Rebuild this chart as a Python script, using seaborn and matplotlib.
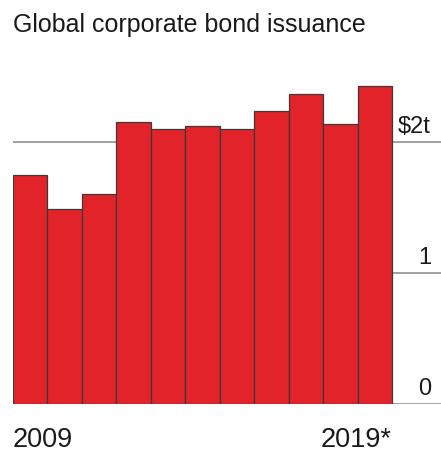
import matplotlib
matplotlib.use("Agg")
import matplotlib.pyplot as plt
import matplotlib.transforms as mtransforms
import seaborn as sns
import pandas as pd

# Annual global corporate bond issuance, $ trillion
years = ["2009", "2010", "2011", "2012", "2013", "2014", "2015", "2016", "2017", "2018", "2019*"]
issuance = [1.75, 1.49, 1.60, 2.15, 2.10, 2.12, 2.10, 2.24, 2.37, 2.14, 2.43]
tick_values = [0, 1, 2]
tick_labels = ["0", "1", "$2t"]
title = "Global corporate bond issuance"

df = pd.DataFrame({"year": years, "issuance": issuance})

sns.set_theme(style="white")
plt.rcParams["font.family"] = ["Liberation Sans", "DejaVu Sans"]

W, H = 441, 452
fig = plt.figure(figsize=(W / 100, H / 100), dpi=100)
fig.patch.set_facecolor("white")

# axes span: left edge of first bar to right edge of the figure
ax = fig.add_axes([13 / W, 1 - 405 / H, (W - 13) / W, (405 - 70) / H])
ax.set_facecolor("white")

grid_color = "#9a9a9a"
for v in tick_values:
    ax.axhline(v, color=grid_color, lw=1.3, zorder=0)

sns.barplot(data=df, x="year", y="issuance", color="#e3232a", saturation=1,
            width=1.0, edgecolor="#3a3a3a", linewidth=0.9, ax=ax, zorder=2)

bar_px = (392 - 13) / len(years)
ax.set_xlim(-0.5, -0.5 + (W - 13) / bar_px)
ax.set_ylim(0, (405 - 70) / 131)

for s in ax.spines.values():
    s.set_visible(False)
ax.set_xticks([])
ax.set_yticks([])
ax.set_xlabel("")
ax.set_ylabel("")

text_color = "#1a1a1a"

# value labels sit just above their gridlines, right-aligned near the figure edge
trans = mtransforms.blended_transform_factory(fig.transFigure, ax.transData) + \
    mtransforms.ScaledTranslation(0, 10 / 100, fig.dpi_scale_trans)
for v, lab in zip(tick_values, tick_labels):
    ax.text(431 / W, v, lab, transform=trans, ha="right", va="baseline",
            fontsize=17, color=text_color)

# first and last year under the bars
xtrans = mtransforms.blended_transform_factory(ax.transData, fig.transFigure)
ax.text(-0.5, 1 - 447 / H, years[0], transform=xtrans, ha="left", va="baseline",
        fontsize=19.5, color=text_color)
ax.text(len(years) - 0.5, 1 - 447 / H, years[-1], transform=xtrans, ha="right",
        va="baseline", fontsize=19.5, color=text_color)

fig.text(13 / W, 1 - 32 / H, title, ha="left", va="baseline", fontsize=18,
         color=text_color)

fig.savefig("out.png", dpi=100, facecolor="white")
